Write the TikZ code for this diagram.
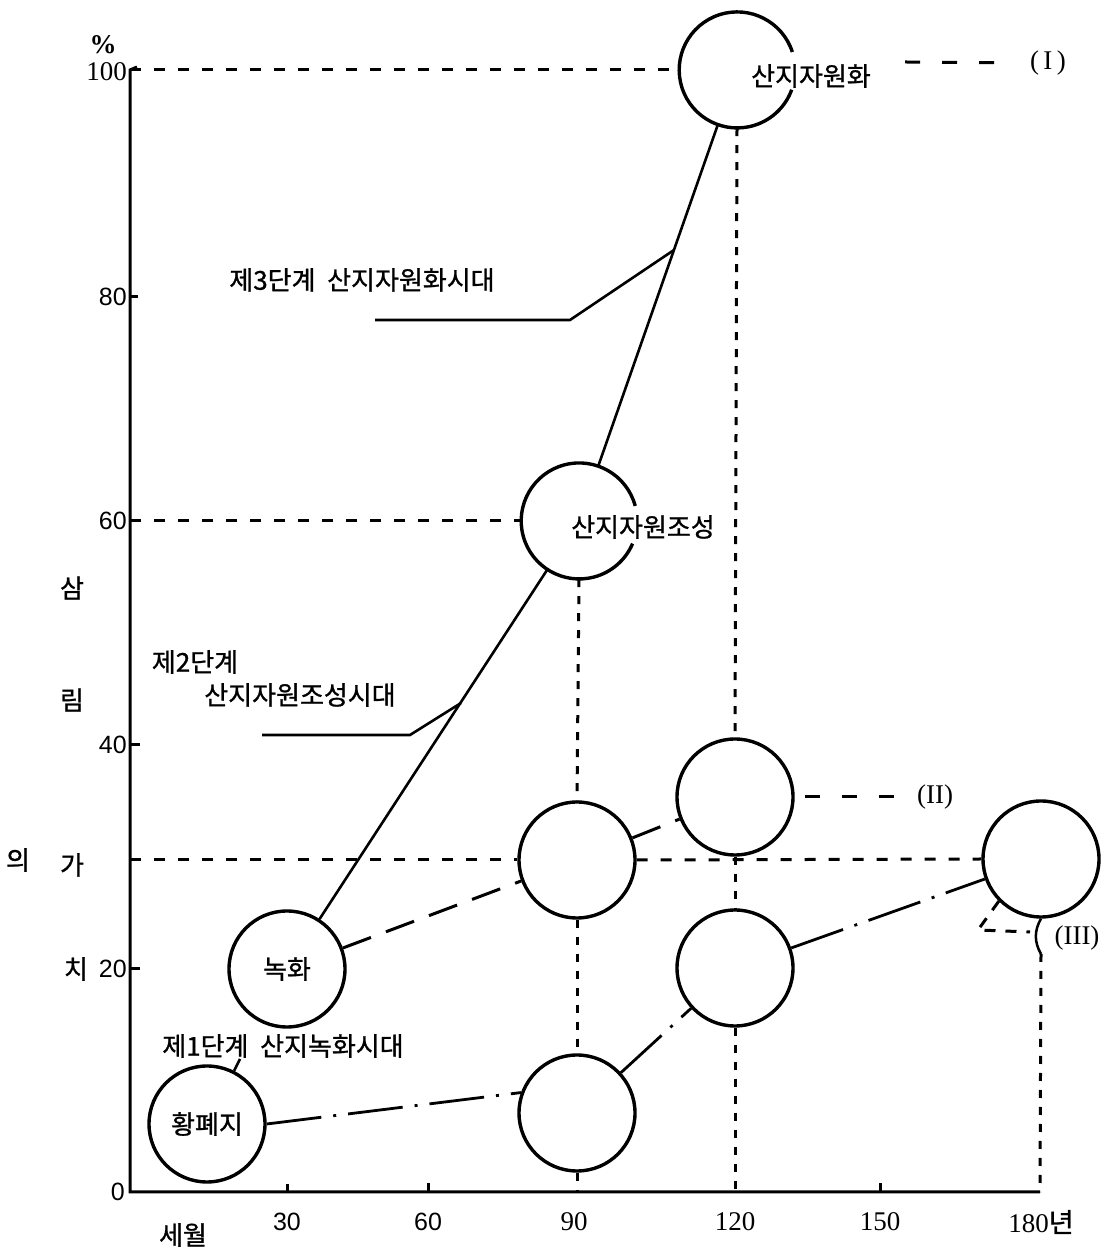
\documentclass[tikz,border=0pt]{standalone}
\usepackage{fontspec}
\setmainfont{Liberation Serif}
\newfontfamily\kr[FakeBold=1]{Noto Sans CJK KR}
\newfontfamily\lsans{Liberation Sans}
\begin{document}
\begin{tikzpicture}[x=1pt,y=1pt,
 ring/.style={circle, minimum size=116pt, inner sep=0pt, line width=3.4pt, draw},
 ringnd/.style={circle, minimum size=116pt, inner sep=0pt},
 krl/.style={font=\kr\fontsize{26}{30}\selectfont, inner sep=0pt},
 num/.style={font=\fontsize{27}{30}\selectfont, inner sep=0pt},
 snum/.style={font=\lsans\fontsize{25}{30}\selectfont, inner sep=0pt},
 dotl/.style={line width=3pt, dash pattern=on 8pt off 9pt},
 hdot/.style={line width=3pt, dash pattern=on 11pt off 13pt},
 dashII/.style={line width=3pt, dash pattern=on 30pt off 16pt},
 dashdot/.style={line width=2.8pt, dash pattern=on 55pt off 12pt on 3pt off 12pt},
 solidl/.style={line width=2.6pt},
 shortd/.style={line width=3pt, dash pattern=on 15pt off 22pt},
 hookd/.style={line width=3pt, dash pattern=on 11pt off 10pt, line join=miter},
 axisl/.style={line width=3pt},
]
\useasboundingbox (0,0) rectangle (1106,1250);
\fill[white] (0,0) rectangle (1106,1250);

% axes
\coordinate (o) at (130,58);
\coordinate (ytop) at (130,1180);
\coordinate (xend) at (1040,58);
\draw[axisl] (137,1183) -- (ytop) -- (o) -- (xend);
% ticks
\draw[axisl] (130,953) -- (138,953);
\draw[axisl] (130,505) -- (140,505);
\draw[axisl] (130,281) -- (140,281);
\draw[axisl] (287,58) -- (287,66);
\draw[axisl] (428,58) -- (428,67);
\draw[axisl] (880,58) -- (880,67);

% tick labels
\node[num] (pct) at (103,1205) {\textbf{\%}};
\node[num, anchor=east] (l100) at (127,1178) {100};
\node[snum, anchor=east] (l80) at (127,953) {80};
\node[snum, anchor=east] (l60) at (127,729) {60};
\node[snum, anchor=east] (l40) at (127,505) {40};
\node[snum, anchor=east] (l20) at (127,281) {20};
\node[snum, anchor=east] (l0) at (125,58) {0};
\node[snum] (x30) at (287,28) {30};
\node[snum] (x60) at (428,28) {60};
\node[num] (x90) at (574,28) {90};
\node[num] (x120) at (735,28) {120};
\node[num] (x150) at (880,28) {150};
\node[num] (x180) at (1041,28) {180{\kr 년}};
\node[krl] (sewol) at (183,15) {세월};
% y-axis title
\node[krl] (ya) at (72,662) {삼};
\node[krl] (yb) at (72,550) {림};
\node[krl] (yc) at (18,390) {의};
\node[krl] (yd) at (72,385) {가};
\node[krl] (ye) at (76,281) {치};

% circles
\node[ringnd] (top) at (737,1180) {};
\draw[line width=3.4pt] (top.18) arc[start angle=18, end angle=340, radius=58pt];
\node[ringnd] (jo) at (579,729) {};
\draw[line width=3.4pt] (jo.15) arc[start angle=15, end angle=337, radius=58pt];
\node[ring] (nok) at (287,281) {};
\node[ring] (hw) at (207,126) {};
\node[ring] (c90a) at (577,390) {};
\node[ring] (c120a) at (735,453) {};
\node[ring] (c120b) at (735,282) {};
\node[ring] (c90b) at (577,137) {};
\node[ring] (c180) at (1041,391) {};

% circle texts
\node[krl] (ttop) at (811,1174) {산지자원화};
\node[krl] (tjo) at (643,723) {산지자원조성};
\node[krl] at (nok.center) (tnok) {녹화};
\node[krl] at (hw.center) (thw) {황폐지};

% stage labels
\node[krl] (s3) at (362,970) {제3단계\ \ 산지자원화시대};
\node[krl] (s2a) at (195,588) {제2단계};
\node[krl] (s2b) at (300,555) {산지자원조성시대};
\node[krl] (s1) at (283,204) {제1단계\ \ 산지녹화시대};

% side labels
\node[num] (rI) at (1048,1187) {(\,I\,)};
\node[num] (rII) at (935,453) {(II)};
\node[num] (rIII) at (1077,312) {(III)};

% solid progression
\draw[solidl] (nok) -- (jo);
\draw[solidl] (jo) -- (top);

% leaders
\coordinate (ld3a) at (375,930);
\coordinate (ld3b) at (570,930);
\coordinate (ld3c) at (674,1000);
\draw[solidl] (ld3a) -- (ld3b) -- (ld3c);
\coordinate (ld2a) at (262,515);
\coordinate (ld2b) at (410,515);
\coordinate (ld2c) at (461,547);
\draw[solidl] (ld2a) -- (ld2b) -- (ld2c);
\coordinate (ld1) at (240,191);
\draw[solidl] (hw.63) -- (ld1);

% horizontal reference lines
\coordinate (h100) at (130,1180);
\coordinate (h60) at (130,729);
\coordinate (h30) at (130,390);
\draw[hdot] (h100) -- (top.west);
\draw[hdot] (h60) -- (jo.west);
\draw[hdot] (h30) -- (c90a.west);
\draw[hdot] (c90a.east) -- (c180.west);

% vertical reference lines
\coordinate (v120) at (735,58);
\coordinate (v90) at (577,58);
\coordinate (v180a) at (1041,296);
\draw[dotl] (top.south) -- (c120a.north);
\draw[dotl] (c120a.south) -- (c120b.north);
\draw[dotl] (c120b.south) -- (v120);
\draw[dotl] (jo.south) -- (c90a.north);
\draw[dotl] (c90a.south) -- (c90b.north);
\draw[dotl] (c90b.south) -- (v90);
\draw[line width=2.5pt] (c180.south) to[bend right=30] (v180a);
\draw[dotl] (v180a) -- (xend);

% path (II)
\draw[dashII] (nok) -- (c90a);
\draw[dashII] (c90a) -- (c120a);
\draw[shortd, shorten <=10pt, shorten >=14pt] (c120a.east) -- (rII.west);

% path (III)
\draw[dashdot] (hw.east) -- (c90b.160);
\draw[dashdot] (c90b) -- (c120b);
\draw[dashdot] (c120b) -- (c180);
\coordinate (hk) at (978,320);
\draw[hookd] (c180.225) -- (hk) -- (1030,318);

% (I)
\coordinate (dI) at (905,1188);
\draw[shortd, shorten >=20pt] (dI) -- (rI.west);
\end{tikzpicture}
\end{document}
